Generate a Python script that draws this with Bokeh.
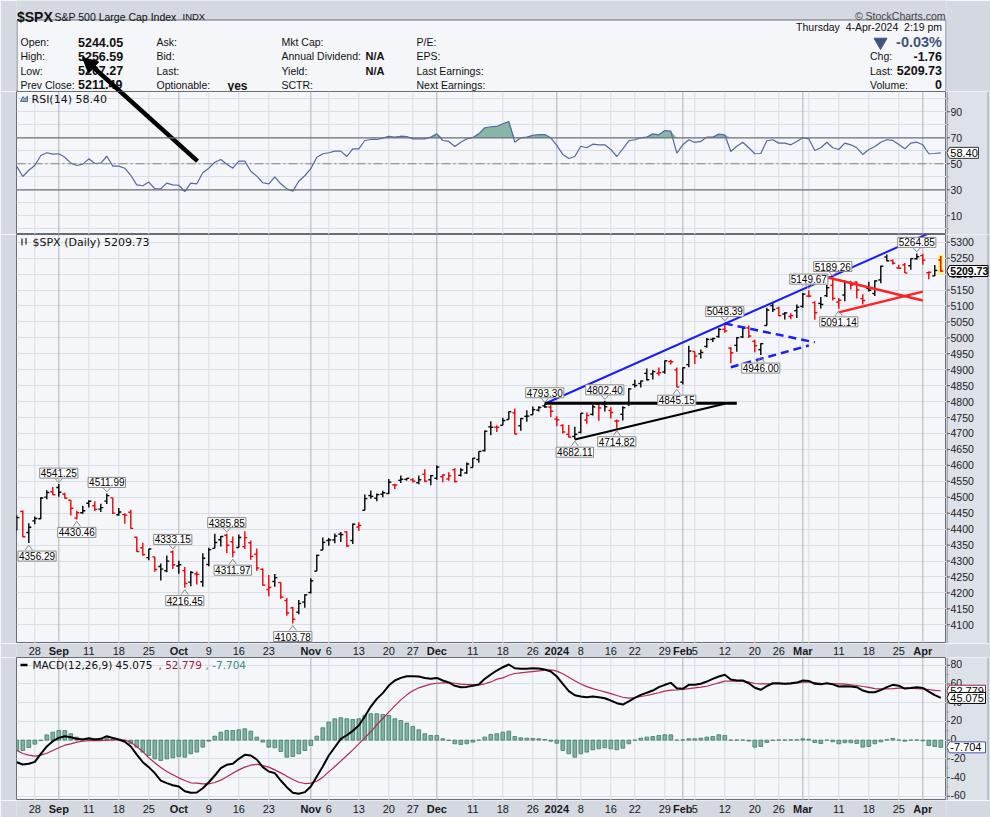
import numpy as np
import pandas as pd
from bokeh.plotting import figure
from bokeh.layouts import column, row
from bokeh.models import Range1d, FixedTicker, Span, Label, Arrow, NormalHead
from bokeh.core.properties import value
from bokeh.embed import file_html
from bokeh.resources import INLINE

# ---------------- data ----------------
start_date, end_date = "2023-08-23", "2024-04-04"
holidays = ["2023-09-04", "2023-11-23", "2023-12-25", "2024-01-01",
            "2024-01-15", "2024-02-19", "2024-03-29"]
prev_close_before_start = 4387.55

opens = [4396.44, 4455.16, 4389.38, 4426.03, 4432.75, 4500.34, 4517.01, 4530.60, 4510.06, 4490.35,
         4434.55, 4451.30, 4480.98, 4473.27, 4462.65, 4487.78, 4497.98, 4445.13, 4445.41, 4452.81,
         4374.36, 4341.74, 4310.62, 4312.88, 4282.63, 4269.65, 4328.18, 4284.52, 4269.75, 4233.83,
         4259.31, 4234.79, 4289.02, 4339.75, 4366.59, 4380.94, 4360.49, 4342.37, 4345.23, 4357.35,
         4321.36, 4273.85, 4210.40, 4235.79, 4232.42, 4175.99, 4152.93, 4139.39, 4171.33, 4201.27,
         4268.26, 4334.23, 4364.27, 4366.21, 4384.37, 4391.41, 4364.15, 4406.66, 4458.97, 4505.30,
         4497.08, 4509.55, 4511.70, 4538.77, 4553.04, 4555.84, 4554.86, 4545.55, 4571.84, 4554.87,
         4559.43, 4564.37, 4557.25, 4586.23, 4568.84, 4576.20, 4593.39, 4618.30, 4646.20, 4721.04,
         4719.74, 4725.58, 4743.72, 4764.73, 4724.29, 4753.92, 4758.86, 4773.45, 4786.44, 4782.88,
         4745.20, 4725.07, 4697.42, 4690.57, 4703.70, 4741.93, 4759.94, 4792.13, 4791.18, 4772.35,
         4739.13, 4760.10, 4796.28, 4853.42, 4856.80, 4888.56, 4886.66, 4888.91, 4892.95, 4925.89,
         4899.19, 4861.11, 4916.06, 4957.19, 4950.16, 4973.05, 4995.16, 5004.17, 5026.83, 4967.94,
         4976.44, 5003.14, 5031.13, 4989.32, 4963.03, 5038.83, 5100.92, 5093.00, 5074.60, 5067.20,
         5085.36, 5098.51, 5130.99, 5110.52, 5108.03, 5132.38, 5164.46, 5111.96, 5134.30, 5173.49,
         5175.14, 5123.31, 5154.77, 5139.09, 5181.69, 5253.43, 5242.48, 5219.52, 5228.85, 5226.31,
         5248.03, 5257.97, 5204.29, 5194.37, 5244.05]
highs = [4443.18, 4458.30, 4418.46, 4439.56, 4500.14, 4521.65, 4532.26, 4541.25, 4514.29, 4490.35,
         4457.81, 4473.53, 4490.77, 4487.11, 4479.39, 4511.99, 4497.98, 4466.36, 4449.85, 4461.03,
         4375.70, 4357.40, 4338.51, 4313.01, 4292.07, 4317.27, 4333.15, 4300.58, 4281.15, 4268.50,
         4267.13, 4324.10, 4341.73, 4385.46, 4378.64, 4385.85, 4377.10, 4383.33, 4393.57, 4364.20,
         4339.54, 4276.56, 4255.84, 4259.38, 4232.42, 4183.60, 4156.70, 4177.47, 4195.55, 4245.64,
         4319.72, 4373.62, 4372.21, 4386.26, 4391.20, 4393.40, 4418.03, 4421.76, 4508.67, 4521.17,
         4511.99, 4520.12, 4557.11, 4542.14, 4568.43, 4560.31, 4560.52, 4568.14, 4587.64, 4569.89,
         4599.39, 4572.37, 4578.56, 4590.74, 4590.92, 4609.23, 4622.74, 4643.93, 4709.69, 4738.57,
         4725.58, 4749.52, 4768.69, 4778.01, 4748.71, 4772.94, 4784.72, 4785.39, 4793.30, 4788.43,
         4754.33, 4729.29, 4726.78, 4721.49, 4764.54, 4765.47, 4790.80, 4798.50, 4802.40, 4782.34,
         4744.23, 4785.79, 4842.07, 4868.41, 4866.48, 4903.68, 4898.15, 4906.69, 4929.31, 4931.09,
         4906.75, 4906.97, 4975.29, 4957.19, 4963.13, 4999.89, 5000.40, 5030.06, 5048.39, 4971.30,
         5002.52, 5032.72, 5038.70, 4993.71, 4983.21, 5094.39, 5111.06, 5097.66, 5080.69, 5077.37,
         5104.99, 5140.33, 5149.67, 5114.54, 5127.97, 5165.62, 5189.26, 5124.66, 5179.87, 5179.14,
         5176.85, 5136.86, 5175.60, 5180.31, 5226.19, 5261.10, 5246.09, 5229.09, 5235.16, 5249.26,
         5264.85, 5263.95, 5208.34, 5228.75, 5256.59]
lows = [4396.44, 4375.55, 4356.29, 4414.98, 4431.68, 4493.59, 4507.39, 4501.35, 4496.01, 4442.38,
        4430.46, 4448.38, 4467.89, 4456.83, 4453.52, 4478.69, 4447.21, 4442.11, 4416.61, 4401.38,
        4329.17, 4316.49, 4302.70, 4265.98, 4238.63, 4264.38, 4274.86, 4260.21, 4216.45, 4220.48,
        4225.91, 4219.55, 4283.79, 4339.64, 4345.34, 4325.43, 4311.97, 4342.37, 4337.54, 4303.84,
        4269.69, 4223.03, 4189.22, 4219.43, 4181.42, 4127.90, 4103.78, 4132.94, 4153.12, 4197.74,
        4268.26, 4334.23, 4347.53, 4355.41, 4359.76, 4343.94, 4353.34, 4393.82, 4458.97, 4495.31,
        4487.83, 4499.66, 4510.36, 4525.51, 4545.05, 4552.80, 4546.32, 4540.51, 4547.15, 4537.24,
        4554.71, 4546.72, 4551.68, 4546.50, 4565.22, 4574.06, 4593.39, 4608.09, 4643.23, 4694.34,
        4704.48, 4725.58, 4743.72, 4697.82, 4708.35, 4736.77, 4758.45, 4768.90, 4780.98, 4751.99,
        4722.67, 4699.71, 4687.53, 4682.11, 4699.82, 4730.35, 4756.20, 4739.58, 4768.98, 4747.12,
        4714.82, 4740.57, 4785.87, 4844.05, 4844.37, 4865.94, 4869.34, 4881.47, 4887.40, 4916.27,
        4845.15, 4853.52, 4907.99, 4918.09, 4934.88, 4969.05, 4987.09, 5000.34, 5016.18, 4920.31,
        4956.21, 4999.44, 4999.52, 4955.02, 4946.00, 5038.83, 5081.46, 5068.91, 5057.29, 5058.35,
        5061.89, 5094.16, 5127.18, 5056.82, 5092.22, 5128.21, 5117.50, 5091.14, 5114.48, 5151.88,
        5123.30, 5104.35, 5145.47, 5131.59, 5171.55, 5240.66, 5229.87, 5216.09, 5203.42, 5213.92,
        5245.82, 5229.20, 5184.05, 5194.37, 5207.27]
closes = [4436.01, 4376.31, 4405.71, 4433.31, 4497.63, 4514.87, 4507.66, 4515.77, 4496.83, 4465.48,
          4451.14, 4457.49, 4487.46, 4461.90, 4467.44, 4505.10, 4450.32, 4453.53, 4443.95, 4402.20,
          4330.00, 4320.06, 4337.44, 4273.53, 4274.51, 4299.70, 4288.05, 4288.39, 4229.45, 4263.75,
          4258.19, 4308.50, 4335.66, 4358.24, 4376.95, 4349.61, 4327.78, 4373.63, 4373.20, 4314.60,
          4278.00, 4224.16, 4217.04, 4247.68, 4186.77, 4137.23, 4117.37, 4166.82, 4193.80, 4237.86,
          4317.78, 4358.34, 4365.98, 4378.38, 4382.78, 4347.35, 4415.24, 4411.55, 4495.70, 4502.88,
          4508.24, 4514.02, 4547.38, 4538.19, 4556.62, 4559.34, 4550.43, 4554.89, 4550.58, 4567.80,
          4594.63, 4569.78, 4567.18, 4549.34, 4585.59, 4604.37, 4622.44, 4643.70, 4707.09, 4719.55,
          4719.19, 4740.56, 4768.37, 4698.35, 4746.75, 4754.63, 4774.75, 4781.58, 4783.35, 4769.83,
          4742.83, 4704.81, 4688.68, 4697.24, 4763.54, 4756.50, 4783.45, 4780.24, 4783.83, 4765.98,
          4739.21, 4780.94, 4839.81, 4850.43, 4864.60, 4868.55, 4894.16, 4890.97, 4927.93, 4924.97,
          4845.65, 4906.19, 4958.61, 4942.81, 4954.23, 4995.06, 4997.91, 5026.61, 5021.84, 4953.17,
          5000.62, 5029.73, 5005.57, 4975.51, 4981.80, 5087.03, 5088.80, 5069.53, 5078.18, 5069.76,
          5096.27, 5137.08, 5130.95, 5078.65, 5104.76, 5157.36, 5123.69, 5117.94, 5175.27, 5165.31,
          5150.48, 5117.09, 5149.42, 5178.51, 5224.62, 5241.53, 5234.18, 5218.19, 5203.58, 5248.49,
          5254.35, 5243.77, 5205.81, 5211.49, 5209.73]

rsi14 = [48.0, 40.2, 45.0, 48.7, 56.4, 58.5, 57.4, 57.7, 55.0, 50.5,
         48.7, 49.7, 53.8, 50.2, 50.5, 55.8, 48.2, 48.2, 46.6, 41.0,
         33.8, 33.1, 35.9, 30.8, 30.8, 35.1, 33.8, 33.5, 28.7, 35.1,
         34.6, 43.1, 46.6, 51.2, 53.3, 49.7, 46.6, 52.0, 52.0, 44.3,
         40.5, 35.4, 34.6, 40.0, 34.6, 30.8, 29.0, 36.6, 40.8, 46.2,
         55.0, 57.7, 58.5, 59.7, 59.7, 55.6, 61.5, 61.5, 67.9, 68.7,
         68.7, 69.7, 71.2, 70.5, 71.2, 71.0, 69.2, 69.2, 69.2, 70.5,
         73.0, 67.9, 67.2, 63.3, 66.6, 69.2, 70.2, 73.0, 77.7, 78.5,
         78.7, 80.8, 82.5, 66.6, 70.0, 70.5, 71.8, 72.5, 72.5, 70.0,
         64.1, 57.2, 54.1, 55.6, 63.5, 62.3, 65.1, 64.6, 64.6, 61.0,
         55.6, 61.5, 67.7, 68.5, 70.0, 70.5, 73.0, 72.3, 75.6, 75.1,
         58.2, 64.6, 68.5, 66.4, 67.2, 70.5, 70.5, 72.8, 72.3, 59.5,
         63.5, 66.6, 62.3, 57.7, 57.9, 67.7, 68.5, 65.9, 65.9, 64.6,
         67.2, 70.0, 69.2, 60.2, 62.3, 66.6, 62.3, 61.0, 65.9, 64.6,
         62.3, 57.2, 61.0, 63.3, 66.6, 68.5, 68.0, 64.9, 61.5, 65.9,
         66.6, 64.6, 57.7, 57.9, 58.40]

macd_line = [-23.6, -26.1, -25.3, -23.2, -14.6, -6.8, -1.2, 2.4, 4.2, 3.1,
             1.4, 0.6, 2.1, 0.6, 1.4, 4.2, 2.4, 0.6, -1.8, -6.8,
             -15.4, -23.6, -28.9, -35.3, -43.2, -46.0, -48.2, -49.6, -54.6, -56.3,
             -56.0, -51.4, -45.0, -37.8, -30.0, -26.4, -25.3, -20.0, -15.7, -16.4,
             -20.7, -28.9, -33.6, -35.3, -43.2, -50.3, -56.3, -57.4, -55.6, -49.6,
             -38.9, -28.2, -16.4, -7.6, 1.4, 5.2, 9.9, 15.6, 25.2, 35.9,
             44.1, 50.2, 58.3, 63.7, 66.5, 68.3, 68.3, 67.9, 66.5, 65.5,
             66.5, 63.7, 61.6, 58.0, 56.6, 56.9, 58.0, 59.4, 65.5, 70.1,
             74.4, 77.9, 80.8, 76.8, 76.2, 76.2, 76.8, 76.5, 75.4, 73.3,
             68.0, 60.2, 52.3, 48.0, 46.6, 45.9, 46.6, 45.9, 44.8, 42.3,
             39.5, 38.0, 41.3, 45.2, 48.4, 50.6, 53.0, 56.6, 59.1, 61.2,
             55.5, 54.8, 59.1, 59.1, 60.2, 62.6, 65.5, 68.0, 69.8, 64.8,
             63.7, 63.7, 60.8, 55.9, 53.8, 57.6, 60.8, 60.8, 60.2, 60.8,
             61.5, 63.7, 63.3, 60.2, 59.6, 60.8, 59.6, 57.3, 57.6, 57.3,
             56.6, 53.0, 51.2, 51.2, 53.5, 56.6, 59.1, 58.1, 55.1, 55.8,
             56.6, 55.8, 51.9, 48.0, 45.075]
macd_signal = [-11.1, -14.3, -16.1, -17.2, -16.1, -14.0, -11.1, -8.2, -5.4, -4.0,
               -2.2, -1.2, -0.5, -0.5, -0.5, -0.1, 0.3, 0.3, -0.1, -2.2,
               -7.1, -12.2, -18.9, -24.2, -29.3, -33.5, -37.1, -40.3, -43.2, -45.6,
               -46.0, -46.7, -46.7, -45.3, -42.8, -39.2, -35.3, -31.8, -28.9, -26.8,
               -25.8, -27.2, -28.9, -31.8, -35.0, -38.6, -42.1, -45.0, -46.4, -46.0,
               -43.9, -39.6, -33.9, -28.2, -22.5, -16.4, -10.4, -4.0, 2.4, 8.9,
               16.4, 23.1, 29.9, 36.6, 43.0, 48.4, 52.7, 55.9, 58.0, 59.8,
               60.8, 61.2, 61.2, 60.8, 59.8, 59.4, 59.4, 59.1, 60.2, 62.2,
               65.1, 66.5, 69.3, 71.2, 71.9, 72.6, 73.3, 74.0, 74.7, 75.1,
               73.7, 71.0, 67.2, 63.4, 60.0, 57.2, 55.1, 53.3, 51.6, 49.7,
               47.7, 45.8, 44.8, 45.5, 46.6, 47.7, 49.1, 50.6, 52.3, 53.4,
               53.7, 54.1, 55.1, 55.9, 56.6, 57.6, 59.4, 61.2, 63.0, 63.0,
               63.0, 63.0, 61.9, 60.5, 60.2, 60.2, 60.2, 60.2, 60.2, 60.2,
               60.8, 61.9, 61.9, 61.6, 60.8, 60.5, 60.2, 60.2, 59.8, 59.1,
               58.4, 57.3, 56.3, 55.1, 54.8, 54.8, 55.1, 55.5, 55.5, 55.5,
               55.1, 54.8, 54.1, 53.1, 52.779]
macd_hist = [-11.1, -11.1, -8.0, -4.3, -0.4, 5.6, 8.5, 10.3, 10.3, 6.8,
             3.2, 1.4, 1.4, 1.4, 1.8, 3.2, 1.8, 0.4, -0.4, -3.9,
             -7.5, -12.8, -16.4, -20.0, -21.7, -20.0, -18.9, -17.5, -18.2, -14.6,
             -12.8, -7.5, -1.1, 4.2, 8.5, 10.3, 10.3, 11.0, 12.1, 9.6,
             3.2, -2.1, -7.5, -8.2, -12.1, -18.2, -17.5, -14.6, -11.1, -5.7,
             4.2, 13.2, 19.3, 22.8, 23.9, 22.8, 22.1, 22.8, 26.4, 28.2,
             28.2, 27.5, 26.4, 22.8, 21.0, 18.2, 14.6, 11.0, 6.8, 5.0,
             5.0, 1.4, -0.4, -3.9, -4.6, -3.9, -2.1, 0.0, 3.2, 6.1,
             6.8, 8.5, 9.6, 3.9, 2.5, 2.1, 1.8, 1.4, 0.7, -1.1,
             -3.3, -11.1, -14.6, -18.2, -14.6, -12.8, -10.3, -9.3, -8.2, -9.3,
             -10.3, -8.6, -3.9, 0.0, 2.1, 3.2, 3.9, 5.0, 5.7, 5.7,
             0.0, 0.3, 1.4, 1.4, 2.1, 3.2, 3.9, 5.7, 5.0, 0.0,
             0.2, 0.2, -1.0, -7.5, -6.8, -2.5, -0.3, 0.2, 0.2, 0.3,
             0.4, 1.4, 1.0, -2.5, -3.6, 0.0, -1.8, -3.9, -2.8, -2.8,
             -3.6, -7.5, -6.8, -3.9, -1.8, 0.4, 1.8, 0.0, -1.1, 0.0,
             0.2, -0.7, -5.7, -6.8, -7.704]

# annotated highs / lows
peak_dates = ["2023-08-25", "2023-09-01", "2023-09-07", "2023-09-14", "2023-09-29", "2023-10-03",
              "2023-10-12", "2023-10-13", "2023-10-27", "2023-12-28", "2024-01-05", "2024-01-12",
              "2024-01-17", "2024-01-31", "2024-02-12", "2024-02-21", "2024-03-04", "2024-03-08",
              "2024-03-11", "2024-03-28"]
peak_values = [4356.29, 4541.25, 4430.46, 4511.99, 4333.15, 4216.45, 4385.85, 4311.97, 4103.78,
               4793.30, 4682.11, 4802.40, 4714.82, 4845.15, 5048.39, 4946.00, 5149.67, 5189.26,
               5091.14, 5264.85]
peak_sides = ["below", "above", "below", "above", "above", "below", "above", "below", "below",
              "above", "below", "above", "below", "below", "above", "below", "above", "above",
              "below", "above"]

# drawn trend lines: (start date, end date), (start value, end value)
trend_dates = [("2023-12-28", "2024-04-02"), ("2023-12-28", "2024-02-14"), ("2024-01-05", "2024-02-12"),
               ("2024-02-12", "2024-03-05"), ("2024-02-13", "2024-03-04"),
               ("2024-03-07", "2024-04-01"), ("2024-03-11", "2024-04-01")]
trend_values = [(4793.3, 5328.0), (4795.0, 4795.0), (4681.0, 4793.0),
                (5045.0, 4986.0), (4908.0, 4976.0), (5190.0, 5117.0), (5080.0, 5145.0)]
trend_colors = ["#1a1aff", "#000000", "#000000", "#1a1aff", "#1a1aff", "#ff2222", "#ff2222"]
trend_widths = [2.0, 3.0, 2.0, 2.5, 2.5, 2.5, 2.5]
trend_dash = ["solid", "solid", "solid", "8 5", "8 5", "solid", "solid"]

# x-axis labels
xlabel_dates = ["2023-08-28", "2023-09-01", "2023-09-11", "2023-09-18", "2023-09-25", "2023-10-02",
                "2023-10-09", "2023-10-16", "2023-10-23", "2023-11-01", "2023-11-06", "2023-11-13",
                "2023-11-20", "2023-11-27", "2023-12-01", "2023-12-11", "2023-12-18", "2023-12-26",
                "2024-01-02", "2024-01-08", "2024-01-16", "2024-01-22", "2024-01-29", "2024-02-01",
                "2024-02-05", "2024-02-12", "2024-02-20", "2024-02-26", "2024-03-01", "2024-03-11",
                "2024-03-18", "2024-03-25", "2024-04-01"]
xlabel_texts = ["28", "Sep", "11", "18", "25", "Oct", "9", "16", "23", "Nov", "6", "13", "20", "27",
                "Dec", "11", "18", "26", "2024", "8", "16", "22", "29", "Feb", "5", "12", "20", "26",
                "Mar", "11", "18", "25", "Apr"]
xlabel_bold = [t.isalpha() or t == "2024" for t in xlabel_texts]
extra_grid_dates = ["2024-03-04"]

price_ticks = list(range(4100, 5301, 50))
rsi_label_ticks = [10, 30, 50, 70, 90]
rsi_grid_ticks = list(range(0, 101, 10))
macd_ticks = [-60, -40, -20, 0, 20, 40, 60, 80]

# ---------------- geometry / style ----------------
WTOT = 990
WMAIN = 946          # left border 16 + frame 930
WAX = WTOT - WMAIN   # right axis strip
X0, X1 = -0.05, 154.95
OUTER = "#d3d8e1"
AXBG = "#dde1e8"
PANEL = "#f5f6fa"
GRID = "#d9dde5"
MGRID = "#adb2bc"
FRAME = "#676c76"
AX_FONT = "Liberation Sans"

dates = pd.bdate_range(start_date, end_date)
dates = dates[~dates.isin(pd.to_datetime(holidays))]
idx = np.arange(len(dates))
XR = Range1d(X0, X1)


def di(d):
    return dates.get_loc(pd.Timestamp(d))


def px_i(xpage):
    return X0 + (xpage - 16.0) / 6.0


label_idx = [di(d) for d in xlabel_dates]
grid_idx = sorted(set(label_idx + [di(d) for d in extra_grid_dates]))
month_idx = [i for i, b in zip(label_idx, xlabel_bold) if b]
week_idx = [i for i in grid_idx if i not in month_idx]


def panel(height, y0, y1, grid_ticks):
    p = figure(width=WMAIN, height=height, x_range=XR, y_range=Range1d(y0, y1),
               output_backend="svg", toolbar_location=None, title=None,
               x_axis_location=None, y_axis_location=None,
               min_border_left=16, min_border_right=0, min_border_top=0, min_border_bottom=0)
    p.background_fill_color = PANEL
    p.border_fill_color = OUTER
    p.outline_line_color = FRAME
    p.outline_line_width = 1
    p.xgrid.visible = False
    g = p.ygrid[0]
    g.ticker = FixedTicker(ticks=grid_ticks)
    g.grid_line_color = GRID
    g.grid_line_width = 1
    p.segment(x0=week_idx, y0=[y0] * len(week_idx), x1=week_idx, y1=[y1] * len(week_idx),
              line_color=GRID, line_width=1)
    p.segment(x0=month_idx, y0=[y0] * len(month_idx), x1=month_idx, y1=[y1] * len(month_idx),
              line_color=MGRID, line_width=1)
    return p


def axis_strip(p, height, ticks, minor, label_dy=0):
    a = figure(width=WAX, height=height, x_range=Range1d(0, WAX), y_range=p.y_range,
               output_backend="svg", toolbar_location=None, title=None,
               x_axis_location=None, y_axis_location=None, min_border=0)
    a.background_fill_color = AXBG
    a.border_fill_color = AXBG
    a.outline_line_color = None
    a.xgrid.visible = False
    a.ygrid.visible = False
    a.segment(x0=[0.5], y0=[p.y_range.start], x1=[0.5], y1=[p.y_range.end],
              line_color=FRAME, line_width=1)
    a.segment(x0=[41.5], y0=[p.y_range.start], x1=[41.5], y1=[p.y_range.end],
              line_color="#9a9ea8", line_width=1)
    a.segment(x0=[0] * len(minor), y0=minor, x1=[2] * len(minor), y1=minor,
              line_color="#888888", line_width=1)
    a.segment(x0=[0] * len(ticks), y0=ticks, x1=[3.5] * len(ticks), y1=ticks,
              line_color="#555555", line_width=1)
    a.text(x=[4] * len(ticks), y=ticks, text=[str(t) for t in ticks], text_font=value(AX_FONT),
           text_font_size="10.5px", text_baseline="middle", text_align="left",
           text_color="#222222", y_offset=label_dy)
    return a


def value_box(a, y, text, border, scale, bold=False, width=36):
    h = 5.5 / scale
    a.patch(x=[0.3, 3.0, 3.0 + width, 3.0 + width, 3.0], y=[y, y + h, y + h, y - h, y - h],
            fill_color="#ffffff", line_color=border, line_width=1)
    a.text(x=[3.8], y=[y], text=[text], text_font=value(AX_FONT),
           text_font_size="10.5px" if bold else "11px",
           text_font_style="bold" if bold else "normal", text_baseline="middle",
           text_align="left", text_color="#000000")


def band(height):
    b = figure(width=WTOT, height=height, x_range=XR, y_range=Range1d(0, 1),
               output_backend="svg", toolbar_location=None, title=None,
               x_axis_location=None, y_axis_location=None,
               min_border_left=16, min_border_right=WAX, min_border_top=0, min_border_bottom=0)
    b.background_fill_color = OUTER
    b.border_fill_color = OUTER
    b.outline_line_color = None
    b.xgrid.visible = False
    b.ygrid.visible = False
    reg = [(i, t) for i, t, bb in zip(label_idx, xlabel_texts, xlabel_bold) if not bb]
    bold = [(i, t) for i, t, bb in zip(label_idx, xlabel_texts, xlabel_bold) if bb]
    yy = 0.5
    b.text(x=[i for i, _ in reg], y=[yy] * len(reg), text=[t for _, t in reg],
           text_font=value(AX_FONT), text_font_size="11px", text_align="center",
           text_baseline="middle", text_color="#1a1a1a")
    b.text(x=[i for i, _ in bold], y=[yy] * len(bold), text=[t for _, t in bold],
           text_font=value(AX_FONT), text_font_size="11px", text_font_style="bold",
           text_align="center", text_baseline="middle", text_color="#1a1a1a")
    return b


# ---------------- header ----------------
# (its frame is aligned by the column layout with the panels: page x 16..946)
hdr = figure(width=WTOT, height=91, x_range=Range1d(16, WMAIN), y_range=Range1d(91, 0),
             output_backend="svg", toolbar_location=None, title=None,
             x_axis_location=None, y_axis_location=None,
             min_border_left=16, min_border_right=WAX, min_border_top=0, min_border_bottom=0)
hdr.background_fill_color = OUTER
hdr.border_fill_color = OUTER
hdr.outline_line_color = None
hdr.xgrid.visible = False
hdr.ygrid.visible = False
hdr.quad(left=[16.5], right=[945.5], top=[19.5], bottom=[91.5], fill_color=PANEL,
         line_color=FRAME)


def htext(x, y, t, size="10.5px", bold=False, align="left", color="#111111", font=AX_FONT,
          baseline="middle"):
    hdr.text(x=[x], y=[y], text=[t], text_font=value(font), text_font_size=size,
             text_font_style="bold" if bold else "normal", text_align=align,
             text_baseline=baseline, text_color=color)


htext(16.5, 16.5, "$SPX", size="14px", bold=True, baseline="alphabetic")
htext(54, 16, "S&P 500 Large Cap Index", size="10.5px", baseline="alphabetic")
htext(182, 16, "INDX", size="9.5px", baseline="alphabetic")
htext(945, 15, "\u00a9 StockCharts.com", size="10.5px", align="right", color="#444444",
      baseline="alphabetic")

rows = [41.5, 55.5, 70, 84]
col1 = ["Open:", "High:", "Low:", "Prev Close:"]
col1v = ["5244.05", "5256.59", "5207.27", "5211.49"]
col2 = ["Ask:", "Bid:", "Last:", "Optionable:"]
col3 = ["Mkt Cap:", "Annual Dividend:", "Yield:", "SCTR:"]
col3v = ["", "N/A", "N/A", ""]
col4 = ["P/E:", "EPS:", "Last Earnings:", "Next Earnings:"]
for r, a_, av, b_, c_, cv, d_ in zip(rows, col1, col1v, col2, col3, col3v, col4):
    htext(20, r, a_)
    htext(77.5, r, av, size="12.5px", bold=True)
    htext(156, r, b_)
    htext(281, r, c_)
    if cv:
        htext(365, r, cv, size="11px", bold=True)
    htext(416, r, d_)
htext(227, 85, "yes", size="12px", bold=True)

htext(941.5, 26.5, "Thursday\u00a0\u00a04-Apr-2024\u00a0\u00a02:19 pm", align="right")
hdr.scatter(x=[880], y=[41.5], marker="inverted_triangle", size=13,
            fill_color="#3d5580", line_color="#3d5580")
htext(941.5, 41.5, "-0.03%", size="14.5px", bold=True, align="right", color="#3d5580")
htext(869.5, 55.5, "Chg:")
htext(941.5, 55.5, "-1.76", size="12.5px", bold=True, align="right")
htext(869.5, 70, "Last:")
htext(941.5, 70, "5209.73", size="12.5px", bold=True, align="right")
htext(869.5, 84, "Volume:")
htext(941.5, 84, "0", size="12.5px", bold=True, align="right")

ARROW_A = (197.0, 160.7)   # tail (page px)
ARROW_B = (82.0, 57.0)     # tip (page px)
hdr.add_layout(Arrow(end=NormalHead(size=15, fill_color="#000000", line_color="#000000"),
                     x_start=ARROW_A[0], y_start=ARROW_A[1], x_end=ARROW_B[0], y_end=ARROW_B[1],
                     line_width=4.5, line_color="#000000"))

# ---------------- RSI ----------------
RSI_TOP, RSI_SC = 105.6, 1.3
rsi_bot = RSI_TOP - 143 / RSI_SC
rsi_p = panel(143, rsi_bot, RSI_TOP, rsi_grid_ticks)


def rsi_y(ypage):
    return RSI_TOP - (ypage - 91) / RSI_SC


rarr = np.array(rsi14)
rsi_p.varea(x=idx, y1=np.full(len(idx), 70.0), y2=np.maximum(rarr, 70.0), fill_color="#86b6a6")
rsi_p.varea(x=idx, y1=np.minimum(rarr, 30.0), y2=np.full(len(idx), 30.0), fill_color="#86b6a6")
for lvl in (70, 30):
    rsi_p.add_layout(Span(location=lvl, dimension="width", line_color="#6d717a", line_width=1.3))
rsi_p.add_layout(Span(location=50, dimension="width", line_color="#808488", line_width=1,
                      line_dash="9 3 2 3"))
rsi_p.line(idx, rarr, line_color="#5566a6", line_width=1.2)
rsi_p.segment(x0=[px_i(ARROW_A[0])], y0=[rsi_y(ARROW_A[1])], x1=[px_i(ARROW_B[0])],
              y1=[rsi_y(ARROW_B[1])], line_color="#000000", line_width=4.5)
rsi_p.text(x=[px_i(31)], y=[rsi_y(98.5)], text=["RSI(14) 58.40"], text_font=value("DejaVu Sans"),
           text_font_size="11px", text_baseline="middle", text_color="#111111")
rsi_p.patch(x=[px_i(20), px_i(22.5), px_i(24.5), px_i(27), px_i(27), px_i(20)],
            y=[rsi_y(101), rsi_y(96), rsi_y(98.5), rsi_y(95.5), rsi_y(101), rsi_y(101)],
            fill_color="#86b6a6", line_color="#5566a6", line_width=1)
rsi_ax = axis_strip(rsi_p, 143, rsi_label_ticks,
                    [v for v in range(0, 101, 10) if v not in rsi_label_ticks])
value_box(rsi_ax, 58.40, "58.40", "#333333", RSI_SC, width=29)

# ---------------- Price ----------------
P_TOP, P_SC = 5324.2, 0.31879
p_bot = P_TOP - 409 / P_SC
pp = panel(409, p_bot, P_TOP, price_ticks)


def pr_y(ypage):
    return P_TOP - (ypage - 234) / P_SC


prev = [prev_close_before_start] + closes[:-1]
bar_col = ["#000000" if c >= pc else "#ee0000" for c, pc in zip(closes, prev)]
last = len(idx) - 1
pp.quad(left=[last - 0.45], right=[last + 0.45], top=[highs[last] + 4], bottom=[lows[last] - 8],
        fill_color="#fff36a", line_color=None)
pp.segment(x0=idx, y0=lows, x1=idx, y1=highs, line_color=bar_col, line_width=1.4)
pp.segment(x0=idx - 0.42, y0=opens, x1=idx, y1=opens, line_color=bar_col, line_width=1.4)
pp.segment(x0=idx, y0=closes, x1=idx + 0.42, y1=closes, line_color=bar_col, line_width=1.4)

for (d0, d1), (v0, v1), c, w, dsh in zip(trend_dates, trend_values, trend_colors, trend_widths,
                                         trend_dash):
    pp.line([di(d0), di(d1)], [v0, v1], line_color=c, line_width=w, line_dash=dsh)

chev_x, chev_y = [], []
for d, v, s in zip(peak_dates, peak_values, peak_sides):
    i = di(d)
    lx, align = i, "center"
    if 16.3 + 6 * i - 19 < 16:
        lx, align = px_i(17.5), "left"
    if s == "above":
        ly, base = v + 6.0 / P_SC, "bottom"
        chev_y.append([v + 5.5 / P_SC, v + 1.5 / P_SC, v + 5.5 / P_SC])
    else:
        ly, base = v - 8.0 / P_SC, "top"
        chev_y.append([v - 7.0 / P_SC, v - 2.0 / P_SC, v - 7.0 / P_SC])
    chev_x.append([i - 0.6, i, i + 0.6])
    pp.add_layout(Label(x=lx, y=ly, text=f"{v:.2f}", text_align=align, text_baseline=base,
                        text_font=AX_FONT, text_font_size="10px", text_color="#000000",
                        background_fill_color="#ffffff", border_line_color="#8a8a8a",
                        padding=1))
pp.multi_line(xs=chev_x, ys=chev_y, line_color="#8a8a8a", line_width=1)

pp.text(x=[px_i(32)], y=[pr_y(241.7)], text=["$SPX (Daily) 5209.73"],
        text_font=value("DejaVu Sans"), text_font_size="11px", text_baseline="middle",
        text_color="#111111")
pp.segment(x0=[px_i(21.5), px_i(25.5)], y0=[pr_y(245), pr_y(244)], x1=[px_i(21.5), px_i(25.5)],
           y1=[pr_y(238), pr_y(237.5)], line_color="#222222", line_width=1.2)
price_ax = axis_strip(pp, 409, price_ticks, [])
value_box(price_ax, 5209.73, "5209.73", "#000000", P_SC, bold=True, width=38.5)

band1 = band(14)

# ---------------- MACD ----------------
M_TOP, M_SC = 88.3, 0.9357
m_bot = M_TOP - 143 / M_SC
mp = panel(143, m_bot, M_TOP, macd_ticks)


def m_y(ypage):
    return M_TOP - (ypage - 657) / M_SC


mp.vbar(x=idx, top=macd_hist, bottom=0, width=0.62, fill_color="#7fb0a0",
        line_color="#3c7b6b", line_width=0.8)
mp.line(idx, macd_signal, line_color="#b4284e", line_width=1.2)
mp.line(idx, macd_line, line_color="#000000", line_width=2.0)
mp.text(x=[px_i(32), px_i(158), px_i(205)], y=[m_y(664.5)] * 3,
        text=["MACD(12,26,9) 45.075", ", 52.779", ", -7.704"], text_font=value("DejaVu Sans"),
        text_font_size="10.5px", text_baseline="middle",
        text_color=["#111111", "#a01e40", "#3f8c7c"])
mp.segment(x0=[px_i(20)], y0=[m_y(664.5)], x1=[px_i(27)], y1=[m_y(664.5)],
           line_color="#000000", line_width=2.5)
macd_ax = axis_strip(mp, 143, macd_ticks,
                     [v for v in range(-60, 90, 10) if v not in macd_ticks], label_dy=-1)
value_box(macd_ax, 52.779, "52.779", "#a01e40", M_SC, width=36)
value_box(macd_ax, 45.075, "45.075", "#000000", M_SC, width=36)
value_box(macd_ax, -7.704, "-7.704", "#4a58a8", M_SC, width=36)

band2 = band(17)

layout = column(hdr, row(rsi_p, rsi_ax), row(pp, price_ax), band1, row(mp, macd_ax), band2,
                spacing=0)
open("out.html", "w").write(file_html(layout, INLINE))
